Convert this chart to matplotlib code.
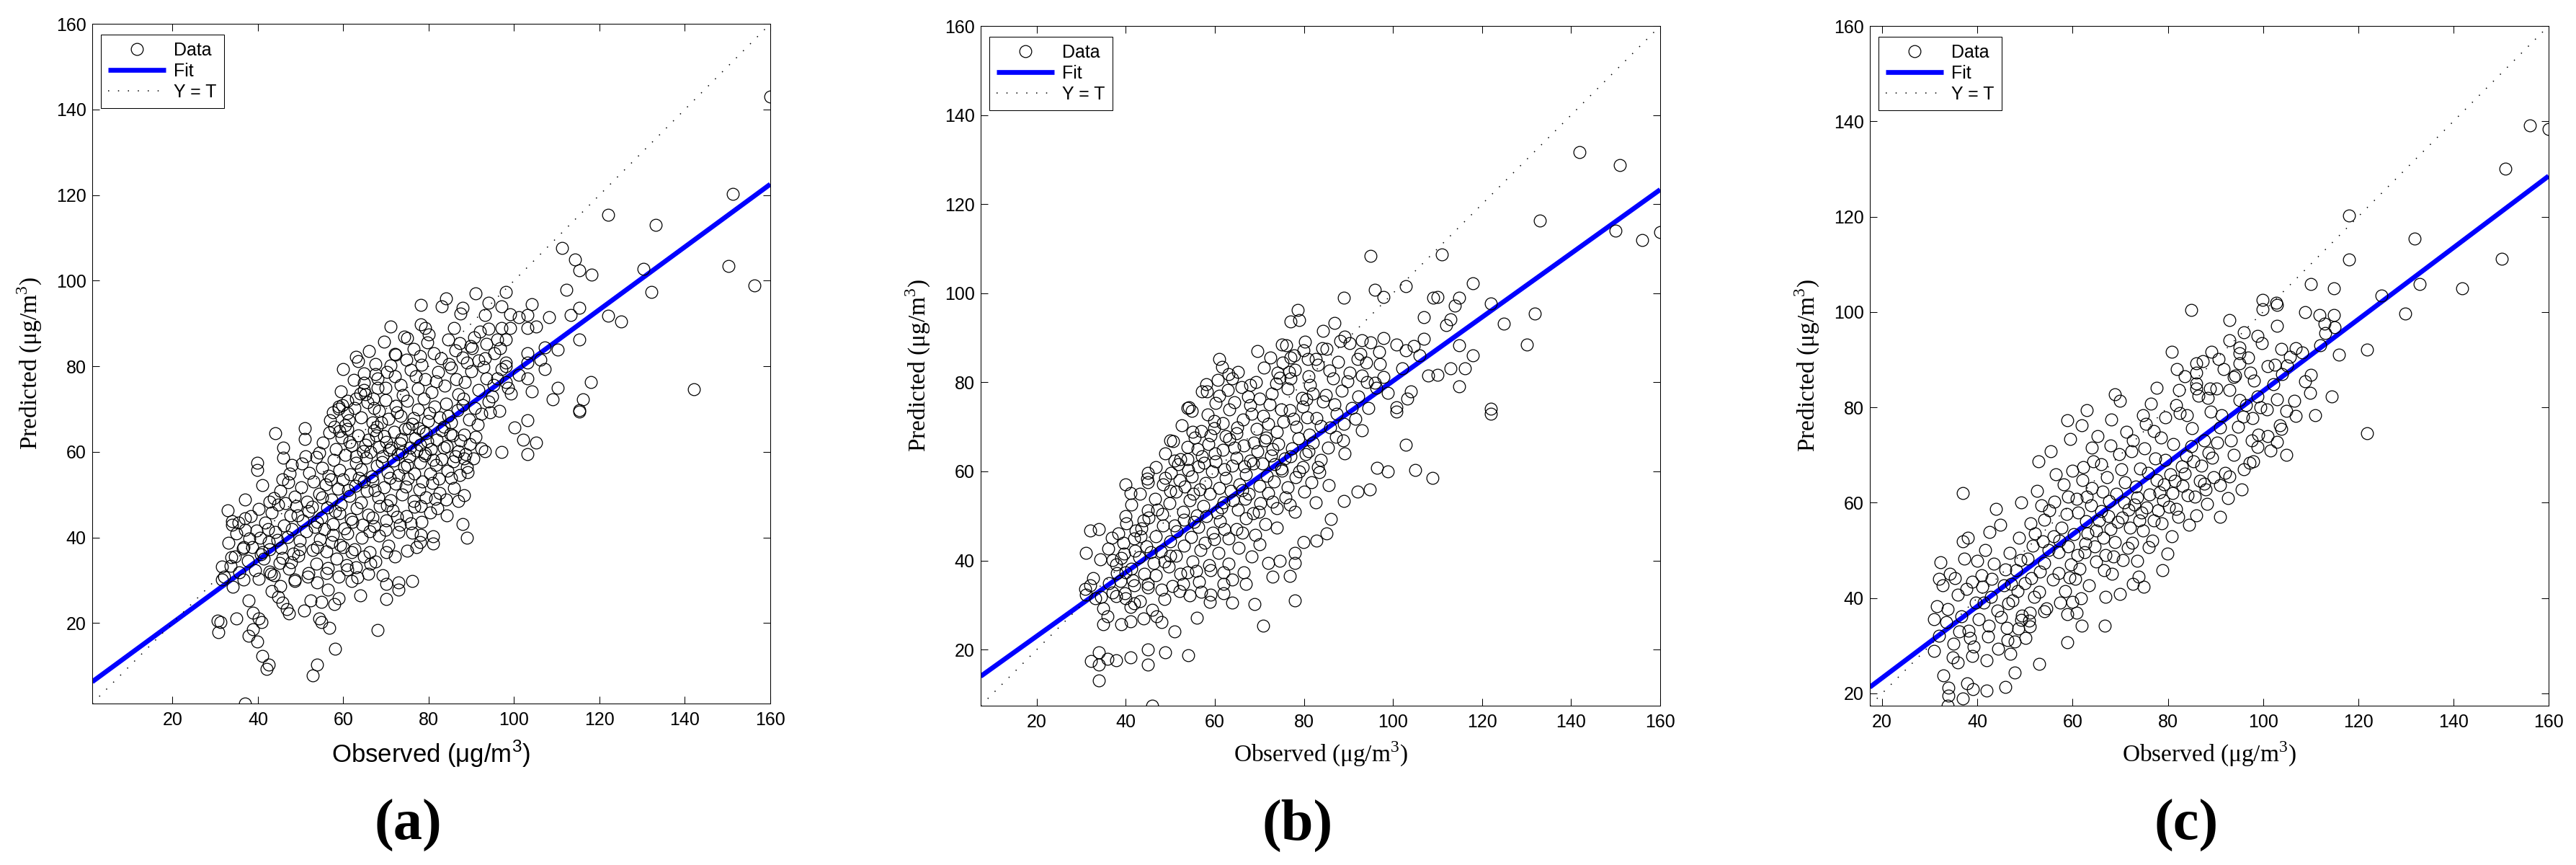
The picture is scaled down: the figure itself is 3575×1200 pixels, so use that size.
import matplotlib
matplotlib.use('Agg')
import matplotlib.pyplot as plt
import numpy as np

plt.rcParams['font.family'] = ['Liberation Sans', 'DejaVu Sans']
plt.rcParams['mathtext.fontset'] = 'custom'
plt.rcParams['mathtext.rm'] = 'Liberation Serif'
plt.rcParams['mathtext.sf'] = 'Liberation Sans'

# ---------------- data ----------------
panel_labels = ['(a)', '(b)', '(c)']
fit_slope = [0.732, 0.716, 0.752]
fit_intercept = [5.4, 8.7, 8.2]
tick_values = [20, 40, 60, 80, 100, 120, 140, 160]
legend_labels = ['Data', 'Fit', 'Y = T']
x_labels = ['Observed (μg/m$^{\\mathsf{3}}$)', 'Observed (μg/m$^{3}$)', 'Observed (μg/m$^{3}$)']
y_label = 'Predicted (μg/m$^{3}$)'

# panel (a): (observed, predicted)
points_a = [
    (160.0, 143.0), (151.2, 120.3), (122.1, 115.3), (133.2, 113.0), (111.2, 107.7), (114.2, 105.0),
    (115.2, 102.4), (118.1, 101.4), (130.3, 102.7), (150.2, 103.5), (156.3, 98.8), (132.2, 97.3),
    (112.2, 97.9), (98.1, 97.3), (91.0, 97.1), (84.0, 95.9), (78.1, 94.4), (83.1, 94.0), (88.0, 93.7),
    (94.1, 94.8), (97.1, 94.0), (104.2, 94.5), (87.5, 92.3), (93.1, 92.0), (99.1, 92.1), (103.2, 92.0),
    (101.1, 91.5), (108.2, 91.5), (113.2, 92.0), (115.2, 93.6), (122.1, 91.8), (125.1, 90.4), (71.0, 89.3),
    (78.1, 89.8), (79.1, 88.9), (92.0, 88.1), (94.1, 88.8), (97.1, 88.9), (99.1, 88.9), (103.2, 88.9),
    (105.2, 89.3), (75.0, 86.5), (96.1, 86.2), (98.1, 86.2), (115.2, 86.2), (87.2, 85.4), (90.2, 84.3),
    (107.2, 84.4), (110.2, 83.9), (103.2, 83.0), (106.2, 81.6), (107.2, 79.4), (103.2, 80.8), (98.1, 80.8),
    (98.1, 80.0), (93.1, 81.9), (72.0, 82.9), (62.9, 82.2), (67.5, 80.5), (59.9, 79.4), (64.9, 78.3),
    (68.0, 77.2), (64.9, 76.1), (68.0, 75.0), (64.9, 74.4), (63.9, 73.6), (67.0, 72.5), (60.9, 71.9),
    (58.9, 70.5), (118.0, 76.3), (110.2, 75.0), (142.1, 74.7), (104.1, 74.2), (99.3, 73.6), (109.1, 72.2),
    (116.2, 72.2), (115.2, 69.7), (103.2, 77.2), (101.1, 78.0), (96.1, 77.2), (98.1, 76.3),
    (37.0, 1.2), (52.8, 7.8), (53.8, 10.3), (42.0, 9.2), (42.5, 10.3), (41.0, 12.3), (58.1, 14.0),
    (39.8, 15.7), (37.9, 17.1), (38.8, 18.5), (30.8, 17.9), (31.3, 20.2), (30.5, 20.5), (34.9, 21.0),
    (38.8, 22.4), (40.1, 21.0), (40.9, 20.2), (56.8, 18.8), (68.0, 18.3), (54.3, 21.0), (54.8, 20.2),
    (50.8, 23.0), (47.2, 22.2), (46.7, 23.3), (45.7, 24.7), (37.9, 25.2), (44.7, 26.1), (52.3, 25.2),
    (54.8, 24.9), (57.9, 24.4), (58.9, 25.8), (56.3, 27.8), (63.9, 26.4), (70.0, 25.6), (73.0, 27.8),
    (70.0, 29.2), (73.0, 29.5), (76.1, 29.8), (53.8, 29.5), (48.7, 29.8), (61.9, 29.8), (58.9, 30.9),
    (65.9, 31.5), (51.8, 31.7), (56.3, 32.8), (60.9, 32.6), (62.9, 33.1), (43.7, 31.2), (42.7, 32.0),
    (40.1, 30.3), (36.6, 30.1), (34.1, 28.4), (31.5, 30.1), (32.1, 30.9), (43.2, 27.5), (45.2, 28.6),
    (47.7, 34.2), (45.7, 35.3), (48.7, 30.1), (33.6, 33.3), (34.6, 35.5), (36.6, 37.8), (38.6, 37.8),
    (40.7, 36.1), (42.7, 37.2), (49.8, 37.2), (53.8, 37.8), (57.3, 38.9), (59.9, 37.8), (61.9, 36.6),
    (64.9, 35.5), (67.5, 34.4), (70.0, 36.6), (72.0, 35.5), (77.1, 37.8), (81.1, 38.6), (81.1, 40.3),
    (78.1, 40.6), (76.1, 41.1), (89.0, 40.0), (88.0, 43.1), (87.0, 48.5), (84.2, 45.1), (82.1, 46.8),
    (78.1, 47.3), (32.9, 46.3), (33.9, 43.8), (33.9, 42.9), (36.9, 48.8), (36.9, 41.8), (39.9, 57.5),
    (39.9, 55.8), (41.0, 52.2), (44.0, 64.3), (46.0, 60.9), (46.0, 58.7), (48.0, 56.9), (51.0, 65.6),
    (51.0, 63.0), (58.9, 70.1), (60.9, 69.0), (103.2, 67.3), (100.1, 65.7), (102.2, 62.9), (105.2, 62.1),
    (103.2, 59.4), (93.1, 60.2), (97.1, 59.9), (115.2, 69.4), (94.3, 69.3), (89.2, 55.2), (88.2, 58.4),
    # dense core
    (57.5, 69.2), (59.8, 71.0), (61.2, 67.4), (62.7, 70.3), (64.1, 68.1), (65.6, 71.6), (66.9, 66.8),
    (68.3, 69.5), (69.8, 72.1), (70.6, 67.7), (72.2, 70.8), (73.5, 68.4), (74.9, 71.9), (76.1, 66.5),
    (77.4, 69.9), (78.8, 72.4), (79.9, 67.2), (81.3, 70.6), (82.6, 68.0), (84.0, 71.3), (85.2, 66.9),
    (86.7, 69.8), (88.1, 72.5), (89.4, 67.6), (90.8, 70.2), (92.3, 68.9), (94.0, 71.7), (60.5, 66.2),
    (67.8, 65.9), (75.3, 65.5), (83.5, 65.8),
    (55.2, 62.1), (56.8, 64.5), (58.3, 60.7), (59.6, 63.3), (60.9, 65.4), (62.0, 61.5), (63.4, 63.9),
    (64.6, 60.2), (65.9, 62.8), (67.1, 65.0), (68.4, 61.1), (69.5, 63.6), (70.7, 60.4), (71.9, 64.7),
    (73.2, 62.0), (74.4, 65.3), (75.6, 60.9), (76.8, 63.2), (78.0, 61.7), (79.3, 64.4), (80.5, 60.6),
    (81.8, 62.9), (83.1, 65.1), (84.3, 61.3), (85.6, 63.8), (86.9, 60.1), (88.2, 64.0), (89.6, 61.9),
    (91.0, 63.5), (92.4, 60.8), (57.9, 65.8), (66.4, 59.9), (72.8, 59.5), (79.0, 59.2), (87.5, 62.6),
    (61.5, 62.4), (70.1, 62.3), (77.7, 65.6),
    (50.3, 57.2), (52.0, 55.1), (53.6, 58.8), (55.0, 56.3), (56.5, 54.4), (57.8, 58.1), (59.1, 55.7),
    (60.4, 59.3), (61.6, 54.8), (62.9, 57.5), (64.2, 55.9), (65.4, 58.6), (66.7, 54.2), (67.9, 56.8),
    (69.2, 59.0), (70.4, 55.3), (71.7, 57.9), (72.9, 54.6), (74.2, 56.5), (75.5, 58.9), (76.7, 55.0),
    (77.9, 57.4), (79.2, 59.6), (80.4, 54.9), (81.7, 56.9), (83.0, 58.3), (84.4, 55.6), (85.8, 57.7),
    (87.3, 54.5), (88.9, 56.4), (90.5, 58.5), (54.3, 59.8), (63.7, 53.9), (73.8, 59.9), (82.3, 53.7),
    (45.2, 50.8), (47.1, 52.9), (48.6, 49.6), (50.1, 51.7), (51.5, 48.4), (53.0, 53.1), (54.4, 50.2),
    (55.9, 52.4), (57.3, 48.9), (58.7, 51.3), (60.0, 53.6), (61.4, 49.7), (62.8, 52.0), (64.1, 48.2),
    (65.5, 50.9), (66.8, 53.3), (68.2, 49.3), (69.6, 51.8), (71.0, 48.7), (72.3, 52.6), (73.7, 50.0),
    (75.1, 53.8), (76.5, 48.6), (77.8, 51.2), (79.3, 49.4), (80.8, 52.7), (82.5, 50.4), (84.1, 48.8),
    (86.0, 51.5), (88.3, 49.9), (46.4, 48.0), (59.4, 47.7), (70.3, 47.5),
    (38.4, 44.9), (40.2, 46.7), (41.7, 43.5), (43.3, 45.8), (44.8, 47.6), (46.1, 42.8), (47.6, 45.1),
    (49.0, 47.3), (50.5, 43.9), (51.9, 46.2), (53.3, 42.4), (54.8, 44.7), (56.2, 47.0), (57.6, 43.2),
    (59.0, 45.6), (60.3, 42.1), (61.7, 44.3), (63.1, 46.9), (64.5, 43.0), (65.8, 45.4), (67.2, 42.6),
    (68.6, 47.4), (70.1, 44.0), (71.6, 46.4), (73.2, 42.9), (74.8, 45.0), (76.6, 47.2), (78.4, 43.7),
    (80.3, 45.9), (35.5, 43.4), (42.4, 42.0), (55.5, 41.9), (66.1, 41.5),
    (33.1, 38.7), (34.9, 40.9), (36.5, 37.4), (38.0, 39.8), (39.6, 41.6), (41.1, 36.6), (42.5, 38.9),
    (44.0, 41.2), (45.4, 37.5), (46.9, 40.1), (48.3, 36.3), (49.8, 39.2), (51.4, 41.4), (52.9, 37.0),
    (54.5, 39.6), (56.1, 36.8), (57.6, 40.6), (59.3, 38.2), (61.0, 41.0), (62.6, 37.3), (64.3, 39.9),
    (66.2, 36.5), (68.3, 40.4), (70.5, 38.0), (72.9, 41.3), (75.0, 36.9),
    (31.6, 33.2), (33.8, 35.4), (35.7, 31.9), (37.6, 34.6), (39.4, 32.4), (41.3, 35.1), (43.1, 31.5),
    (45.0, 34.0), (47.2, 32.7), (49.5, 35.7), (51.6, 30.8), (53.7, 33.9), (56.0, 31.7), (58.4, 35.0),
    (60.7, 33.5), (63.3, 30.6), (66.4, 33.8), (69.2, 31.2),
    (59.5, 74.1), (62.4, 76.8), (65.1, 73.5), (67.6, 78.2), (69.9, 75.0), (72.1, 77.6), (74.0, 73.2),
    (75.8, 79.1), (77.5, 74.8), (79.1, 77.0), (80.6, 73.9), (82.2, 78.6), (83.8, 75.5), (85.3, 79.6),
    (86.9, 73.4), (88.4, 76.3), (90.0, 78.9), (91.7, 74.4), (93.5, 77.2), (95.2, 75.7), (97.0, 79.3),
    (71.0, 80.1), (78.3, 80.4), (84.7, 80.6),
    (74.8, 81.5), (76.5, 84.0), (78.0, 82.3), (79.6, 85.6), (81.2, 83.1), (82.9, 81.9), (84.6, 86.2),
    (86.3, 83.7), (88.0, 82.0), (89.8, 84.8), (91.6, 81.4), (93.5, 85.3), (95.4, 83.0), (66.0, 83.5),
    (69.5, 85.8), (72.3, 82.7), (63.5, 81.2),
    (63.0, 58.9), (65.2, 61.7), (67.7, 63.8), (69.0, 57.6), (71.3, 61.0), (73.6, 63.0), (75.0, 57.0),
    (77.2, 60.3), (79.6, 62.5), (81.0, 58.2), (83.6, 60.9), (85.0, 64.2), (86.2, 58.9), (68.8, 66.9),
    (72.6, 69.3), (76.4, 67.9), (80.2, 69.0), (84.5, 68.4), (87.9, 70.9), (91.5, 66.4), (64.8, 53.0),
    (67.3, 51.0), (70.9, 53.9), (74.6, 51.9), (78.5, 53.1), (81.5, 49.0), (85.2, 53.9), (61.1, 51.1),
    (57.1, 53.6), (55.1, 49.4), (52.6, 47.1), (49.3, 45.2), (58.1, 46.1), (62.1, 43.6), (66.9, 44.6),
    (69.8, 41.7), (72.6, 44.8), (75.8, 43.3), (77.9, 38.9), (53.9, 43.6), (48.0, 41.9), (44.5, 39.5),
    (40.5, 40.0), (37.0, 44.4), (43.8, 49.2), (51.1, 59.0), (47.5, 55.0), (45.8, 53.6), (42.7, 48.3),
    (56.9, 67.4), (59.1, 64.8), (63.0, 72.4), (70.2, 78.6), (73.4, 75.6), (76.9, 77.7), (81.7, 76.4),
    (86.4, 77.0), (89.0, 80.9), (92.8, 79.9), (94.8, 73.0), (96.5, 69.6), (98.6, 74.9), (80.0, 87.5),
    (85.9, 88.9), (90.6, 86.7), (96.8, 84.3), (74.2, 86.9), (67.2, 70.2), (78.6, 64.9), (88.7, 59.5),
]

# panel (b): (observed, predicted)
points_b = [
    (160.0, 113.7), (141.9, 131.6), (150.9, 128.8), (132.9, 116.3), (149.9, 114.1), (155.9, 111.9),
    (95.0, 108.4), (111.0, 108.7), (102.9, 101.6), (95.9, 100.8), (97.9, 99.2), (88.9, 99.0),
    (118.0, 102.2), (109.0, 99.0), (110.0, 99.2), (114.9, 99.0), (113.9, 97.2), (122.0, 97.7),
    (131.9, 95.5), (124.9, 93.1), (106.9, 94.6), (112.9, 94.2), (112.0, 92.8), (77.0, 93.6),
    (78.9, 93.9), (130.0, 88.5), (114.9, 88.3), (118.0, 86.0), (112.9, 83.1), (116.1, 83.1),
    (107.9, 81.5), (110.0, 81.7), (114.9, 79.1), (122.0, 74.1), (89.1, 90.2), (88.1, 89.3),
    (93.0, 89.5), (95.0, 89.0), (97.9, 89.9), (100.8, 88.5), (106.9, 89.7), (104.7, 88.2),
    (76.0, 88.3), (79.9, 87.1), (84.1, 87.6), (96.9, 86.8), (102.9, 87.1), (105.9, 86.0),
    (60.9, 85.2), (77.0, 85.5), (80.9, 85.2), (92.0, 85.2), (94.0, 84.4), (102.1, 83.2),
    (63.1, 81.9), (63.8, 80.8), (68.0, 79.4), (57.0, 78.0), (60.9, 77.0), (54.1, 74.4),
    (74.0, 82.1), (76.7, 82.4), (81.1, 81.3), (95.9, 79.9), (97.9, 81.2), (104.0, 78.0),
    (103.2, 76.3), (100.8, 74.4), (98.8, 77.6), (93.0, 81.5),
    (45.9, 7.4), (33.9, 13.0), (33.9, 16.7), (33.9, 19.3), (32.1, 17.4), (35.9, 17.9), (37.9, 17.6),
    (41.0, 18.3), (45.0, 20.1), (45.0, 16.7), (48.9, 19.3), (54.0, 18.7), (51.0, 24.0), (55.9, 27.1),
    (70.8, 25.3), (77.9, 31.1), (68.9, 30.2), (63.9, 30.6), (66.9, 34.7), (61.9, 32.6), (59.0, 32.3),
    (56.9, 32.9), (48.0, 26.1), (46.9, 27.4), (45.9, 29.0), (43.9, 26.9), (41.0, 26.4), (38.9, 25.7),
    (34.9, 25.7), (35.9, 27.4), (34.9, 29.3), (41.0, 29.6), (41.9, 30.4), (40.0, 31.5), (37.9, 32.0),
    (37.0, 32.8), (33.1, 31.5), (31.0, 32.3), (32.0, 34.5), (41.9, 34.5), (45.0, 34.7), (48.0, 33.4),
    (52.0, 33.1), (52.9, 34.7), (53.9, 37.4), (61.9, 34.7), (73.0, 36.3), (76.9, 36.6), (77.9, 39.5),
    (71.9, 39.5), (66.4, 37.4), (61.9, 37.4), (59.0, 37.9), (31.0, 41.7), (32.0, 46.8), (34.0, 47.1),
    (37.0, 40.1), (38.9, 40.6), (40.0, 37.4), (43.4, 45.5), (40.0, 50.0), (40.0, 57.0), (41.0, 55.1),
    (45.0, 59.7), (45.0, 57.6), (48.9, 58.6), (49.9, 67.0), (51.0, 62.4), (53.9, 62.7), (53.9, 74.3),
    (55.0, 68.9), (59.9, 69.7), (59.0, 68.1), (82.8, 44.4), (85.0, 46.1), (79.9, 44.1), (77.9, 41.7),
    (86.0, 49.3), (88.9, 53.3), (92.0, 55.5), (94.8, 56.0), (98.8, 60.0), (104.9, 60.3), (108.9, 58.5),
    (102.9, 66.0), (121.9, 73.0), (100.8, 73.5), (93.0, 69.2), (96.4, 60.8),
    # dense core
    (52.5, 70.3), (54.8, 73.6), (56.9, 69.1), (58.4, 72.8), (60.1, 75.4), (61.7, 70.9), (63.2, 73.9),
    (64.8, 68.6), (66.3, 71.7), (67.9, 74.8), (69.4, 69.5), (70.8, 72.4), (72.3, 75.1), (73.9, 68.9),
    (75.4, 71.2), (76.8, 73.7), (78.3, 70.0), (79.7, 74.5), (81.2, 68.3), (82.8, 71.9), (84.3, 75.7),
    (85.9, 69.8), (87.4, 72.9), (89.0, 70.6), (90.8, 74.2), (62.5, 67.9), (71.5, 67.6), (80.5, 76.2),
    (58.2, 77.9), (60.7, 80.6), (62.9, 78.3), (65.1, 82.4), (67.4, 76.8), (69.2, 80.1), (71.0, 83.3),
    (72.7, 77.5), (74.5, 81.0), (76.3, 78.6), (78.0, 82.8), (79.6, 76.5), (81.4, 79.4), (83.1, 83.9),
    (84.9, 77.2), (86.6, 80.8), (88.5, 78.1), (90.3, 82.1), (92.2, 76.9), (94.1, 80.0), (96.3, 78.7),
    (75.2, 84.4), (66.0, 79.0),
    (72.5, 85.6), (75.0, 88.4), (77.8, 86.1), (80.3, 89.2), (82.6, 85.3), (85.1, 87.5), (87.6, 84.6),
    (90.2, 88.8), (92.7, 86.4), (69.5, 87.0),
    (48.9, 64.1), (50.6, 66.8), (52.2, 62.7), (53.9, 65.5), (55.5, 67.6), (57.0, 63.4), (58.6, 66.2),
    (60.2, 62.2), (61.8, 64.9), (63.3, 67.3), (64.9, 63.0), (66.4, 65.8), (68.0, 62.4), (69.5, 64.6),
    (71.1, 67.0), (72.6, 63.6), (74.2, 66.1), (75.7, 62.9), (77.3, 65.1), (78.8, 67.5), (80.4, 63.8),
    (82.0, 66.4), (83.7, 62.6), (85.4, 65.3), (87.2, 67.8), (89.1, 64.0), (57.6, 61.9), (73.4, 61.6),
    (44.8, 58.3), (46.7, 60.9), (48.4, 57.1), (50.1, 59.7), (51.7, 61.6), (53.2, 56.6), (54.8, 58.9),
    (56.3, 61.2), (57.9, 57.4), (59.4, 60.0), (60.9, 56.2), (62.4, 58.5), (63.9, 61.3), (65.5, 57.0),
    (67.0, 59.4), (68.6, 61.8), (70.1, 56.8), (71.7, 59.1), (73.2, 57.8), (74.8, 60.6), (76.4, 56.4),
    (78.1, 58.7), (79.8, 61.0), (81.6, 57.5), (83.5, 59.9), (85.5, 56.9), (66.2, 55.8),
    (41.2, 52.6), (43.1, 55.0), (44.9, 51.3), (46.6, 53.8), (48.2, 50.4), (49.8, 52.9), (51.3, 55.4),
    (52.9, 51.0), (54.4, 53.5), (55.9, 50.2), (57.4, 52.2), (58.9, 54.9), (60.5, 50.8), (62.0, 53.0),
    (63.6, 55.6), (65.2, 51.4), (66.8, 53.9), (68.5, 50.6), (70.2, 52.8), (72.0, 55.2), (73.9, 51.7),
    (75.9, 54.1), (78.0, 50.9), (56.6, 55.9),
    (38.3, 46.1), (40.1, 48.4), (41.8, 44.9), (43.5, 47.2), (45.1, 49.6), (46.7, 45.5), (48.3, 47.9),
    (49.9, 44.3), (51.4, 46.6), (53.0, 49.1), (54.6, 45.2), (56.2, 47.5), (57.8, 44.0), (59.5, 46.3),
    (61.2, 48.8), (63.0, 45.0), (64.9, 47.0), (66.9, 49.4), (69.0, 45.7), (71.3, 48.2),
    (34.2, 40.3), (36.1, 42.6), (37.9, 39.1), (39.6, 41.5), (41.3, 38.2), (43.0, 40.8), (44.6, 43.1),
    (46.3, 39.5), (47.9, 42.0), (49.6, 38.6), (51.3, 41.0), (53.1, 43.4), (54.9, 39.8), (56.8, 42.3),
    (58.7, 38.9), (60.8, 41.7), (63.0, 39.3), (65.3, 42.9),
    (30.8, 33.6), (32.6, 36.1), (34.4, 31.8), (36.2, 34.9), (38.0, 37.2), (39.7, 32.7), (41.5, 35.6),
    (43.2, 30.9), (45.0, 33.9), (46.8, 36.7), (48.6, 31.4), (50.4, 34.3), (52.3, 37.0), (54.3, 32.1),
    (56.5, 35.2), (58.8, 30.7),
    (60.0, 64.0), (62.1, 60.4), (64.3, 65.4), (66.6, 61.1), (68.7, 66.5), (70.6, 61.7), (72.9, 65.0),
    (75.1, 60.2), (77.0, 63.4), (79.0, 60.0), (81.1, 64.6), (83.2, 61.0), (65.0, 69.9), (68.2, 72.9),
    (71.9, 70.6), (74.8, 73.9), (77.7, 71.8), (80.7, 72.2), (83.8, 70.2), (86.9, 75.0), (88.8, 67.0),
    (59.8, 71.4), (56.1, 65.0), (54.0, 60.3), (52.1, 58.1), (50.0, 55.6), (55.2, 55.0), (58.0, 50.0),
    (61.4, 51.9), (64.0, 53.5), (67.6, 55.0), (69.9, 51.0), (73.0, 53.2), (76.9, 52.6), (80.0, 55.4),
    (82.6, 53.0), (47.0, 51.4), (44.0, 49.0), (42.2, 46.8), (39.4, 44.0), (36.9, 45.1), (50.9, 47.9),
    (55.3, 48.6), (59.9, 44.8), (62.1, 47.1), (66.1, 46.2), (70.0, 43.6), (73.9, 47.4), (50.0, 41.0),
    (45.6, 41.9), (42.0, 42.2), (38.8, 35.4), (44.1, 37.0), (48.6, 39.8), (55.8, 37.6), (63.9, 35.8),
    (68.2, 40.9), (74.5, 40.0), (58.0, 79.6), (61.6, 83.4), (64.4, 75.6), (70.0, 76.4), (73.8, 79.8),
    (77.0, 80.9), (82.0, 77.5), (85.8, 82.7), (89.7, 80.2), (91.5, 71.8), (94.5, 74.3), (97.0, 84.1),
    (84.3, 91.6), (86.9, 93.3), (78.6, 96.2),
]

# panel (c): (observed, predicted)
points_c = [
    (160.0, 138.4), (156.0, 139.1), (150.9, 130.0), (118.0, 120.2), (131.9, 115.4), (118.0, 111.0),
    (150.1, 111.2), (110.0, 105.9), (114.9, 105.0), (132.9, 105.9), (141.9, 105.0), (124.9, 103.4),
    (99.9, 102.6), (102.8, 102.0), (129.9, 99.6), (121.9, 92.1), (121.9, 74.6), (102.9, 101.5),
    (99.9, 100.5), (84.9, 100.4), (92.9, 98.3), (108.8, 100.0), (111.9, 99.4), (114.9, 99.4),
    (112.9, 97.6), (115.1, 96.8), (113.0, 95.6), (102.9, 97.1), (96.0, 95.8), (98.8, 95.0),
    (92.9, 94.1), (80.9, 91.6), (89.2, 91.7), (95.0, 91.3), (106.9, 92.4), (103.8, 92.3),
    (105.6, 90.6), (115.9, 91.0), (86.0, 89.2), (81.9, 88.0), (90.6, 90.1), (95.0, 89.2),
    (101.0, 88.6), (102.4, 88.9), (97.4, 87.2), (93.8, 86.3), (86.0, 87.2), (104.0, 86.9),
    (108.9, 85.5), (109.9, 83.0), (114.4, 82.2), (102.9, 81.6), (98.9, 82.2), (95.0, 81.5),
    (86.0, 83.9), (88.8, 83.9), (82.4, 83.6), (68.9, 82.8), (69.9, 81.4), (62.9, 79.4),
    (58.9, 77.3), (61.9, 76.2), (59.5, 73.3), (110.9, 78.4), (106.9, 78.2), (104.9, 79.3),
    (103.9, 75.5), (103.0, 72.8), (104.9, 70.1), (101.0, 73.9), (98.9, 71.7), (97.9, 68.7),
    (96.0, 67.0), (92.9, 65.5), (91.0, 63.7), (91.0, 57.0), (36.9, 62.0), (31.9, 44.0),
    (30.9, 35.6), (31.9, 32.1), (30.9, 28.9), (32.9, 23.8), (33.9, 21.2), (33.9, 19.5),
    (33.8, 17.4), (36.9, 18.9), (37.9, 22.1), (39.0, 20.9), (41.9, 20.6), (45.9, 21.4),
    (47.9, 24.3), (53.0, 26.2), (58.9, 30.7), (35.9, 26.4), (38.9, 27.9), (41.9, 27.0),
    (46.9, 28.3), (50.1, 31.6), (61.9, 34.2), (66.8, 34.2), (66.9, 40.3), (69.9, 40.9),
    (74.9, 42.3), (78.9, 45.8), (72.7, 42.9), (59.9, 39.2), (60.9, 36.9), (58.9, 36.6),
    (54.0, 37.2), (51.0, 36.9), (49.2, 35.4), (51.0, 34.0),
    # dense core
    (31.5, 38.2), (32.7, 42.6), (33.4, 34.9), (34.2, 45.1), (35.0, 30.4), (35.8, 40.7), (36.6, 36.2),
    (37.3, 48.3), (38.1, 33.1), (38.9, 43.4), (39.6, 39.0), (32.2, 47.5), (34.8, 27.6), (36.9, 51.9),
    (39.2, 29.8), (33.8, 37.7), (37.7, 41.9),
    (40.3, 35.6), (40.9, 44.8), (41.6, 50.1), (42.2, 31.9), (42.9, 40.3), (43.5, 47.2), (44.2, 37.4),
    (44.8, 55.3), (45.5, 42.6), (46.1, 33.8), (46.8, 49.4), (47.4, 39.5), (48.1, 45.9), (48.7, 52.6),
    (49.4, 36.3), (50.0, 43.1), (41.3, 39.1), (43.9, 58.7), (45.8, 46.0), (47.9, 30.9), (49.2, 60.1),
    (42.6, 53.9), (46.5, 38.8), (48.4, 41.4),
    (50.6, 48.3), (51.2, 55.7), (51.9, 40.2), (52.5, 62.4), (53.2, 45.6), (53.8, 51.9), (54.5, 37.8),
    (55.1, 58.4), (55.8, 43.9), (56.4, 66.0), (57.1, 49.6), (57.7, 54.7), (58.4, 41.5), (59.0, 61.3),
    (59.7, 47.0), (50.9, 35.2), (52.8, 68.7), (54.1, 47.4), (56.0, 53.0), (57.4, 39.1), (58.8, 57.6),
    (55.4, 70.8), (53.5, 59.5), (59.3, 44.3), (51.6, 51.0), (57.0, 45.2),
    (60.3, 53.4), (60.9, 60.8), (61.5, 46.2), (62.2, 67.5), (62.8, 56.1), (63.4, 42.7), (64.1, 63.0),
    (64.7, 50.8), (65.3, 73.9), (66.0, 58.2), (66.6, 45.9), (67.2, 65.4), (67.9, 54.5), (68.5, 48.7),
    (69.1, 61.9), (69.8, 70.2), (61.2, 57.9), (62.5, 49.6), (63.8, 59.5), (65.0, 54.1), (66.3, 62.3),
    (67.5, 57.1), (68.8, 51.8), (64.4, 68.6), (61.8, 39.9), (68.1, 77.4), (63.1, 53.6), (66.9, 49.0),
    (70.4, 56.9), (71.0, 64.3), (71.6, 50.5), (72.3, 70.8), (72.9, 59.6), (73.5, 47.8), (74.2, 67.1),
    (74.8, 54.2), (75.4, 76.5), (76.1, 61.7), (76.7, 52.0), (77.3, 69.3), (78.0, 58.4), (78.6, 73.6),
    (79.2, 63.8), (79.9, 49.3), (70.9, 60.0), (72.0, 54.7), (73.2, 63.4), (74.5, 58.0), (75.8, 66.2),
    (77.0, 56.3), (78.3, 62.1), (79.5, 68.9), (71.3, 74.8), (76.4, 80.7), (73.8, 44.5), (77.7, 84.1),
    (75.1, 71.4),
    (80.5, 66.0), (81.2, 72.3), (81.8, 58.7), (82.5, 78.8), (83.1, 63.5), (83.8, 69.9), (84.4, 55.3),
    (85.1, 75.6), (85.7, 61.2), (86.4, 82.4), (87.0, 67.8), (87.7, 73.0), (88.3, 59.8), (89.0, 79.1),
    (89.6, 65.4), (81.0, 62.0), (82.9, 67.6), (84.9, 71.8), (86.7, 64.6), (88.6, 70.5), (83.5, 86.5),
    (87.3, 89.7), (80.8, 53.0),
    (90.4, 72.6), (91.3, 78.4), (92.1, 66.2), (93.0, 83.7), (93.8, 70.1), (94.7, 75.9), (95.5, 62.8),
    (96.4, 80.5), (97.2, 68.4), (98.1, 85.6), (99.0, 74.3), (91.7, 88.0), (95.1, 92.6), (97.8, 77.7),
    (92.6, 61.0),
    (100.8, 79.6), (102.1, 84.9), (103.5, 76.2), (105.0, 88.7), (106.6, 81.3), (108.2, 91.5),
    (110.1, 86.8), (112.0, 93.0), (101.5, 71.0),
    (41.0, 42.4), (43.0, 44.0), (45.0, 36.0), (47.0, 43.0), (49.0, 48.0), (51.3, 44.2), (53.0, 41.3),
    (55.0, 50.0), (57.2, 52.0), (59.0, 50.8), (61.0, 49.0), (63.0, 61.2), (65.6, 56.3), (67.7, 60.3),
    (69.5, 55.9), (71.8, 58.5), (73.6, 61.1), (75.6, 59.0), (77.6, 64.7), (79.0, 60.5), (81.5, 64.6),
    (83.6, 66.1), (85.4, 68.7), (87.6, 64.0), (89.3, 69.4), (91.0, 75.8), (93.3, 73.1), (95.8, 78.0),
    (97.6, 73.0), (99.5, 80.0), (60.6, 44.0), (62.6, 51.5), (64.9, 47.7), (66.4, 52.6), (68.3, 45.0),
    (70.6, 48.0), (72.5, 51.6), (74.0, 56.3), (76.0, 50.6), (78.7, 55.7), (80.2, 59.2), (82.2, 57.0),
    (84.2, 61.6), (86.0, 57.3), (88.0, 62.7), (52.0, 53.6), (54.0, 56.4), (56.2, 60.2), (58.1, 63.9),
    (60.0, 66.7), (62.0, 64.8), (64.0, 71.5), (66.0, 68.0), (68.0, 72.0), (70.2, 67.0), (72.7, 73.0),
    (74.8, 78.4), (77.0, 75.0), (79.5, 77.9), (81.7, 80.4), (84.0, 78.3), (86.0, 85.0), (88.4, 82.0),
    (90.2, 84.0), (94.1, 86.7), (96.8, 90.4), (99.8, 93.4), (40.0, 47.8), (38.0, 52.7), (35.2, 44.2),
    (36.1, 33.0), (38.5, 31.6), (42.4, 34.2), (44.4, 29.4), (46.3, 31.2), (48.6, 33.6),
]

panel_points = [points_a, points_b, points_c]

# ---------------- layout ----------------
W, H = 3575, 1200
axes_px = [(128, 33, 941, 943), (1361, 36, 943, 943), (2595, 36, 942, 943)]

fig = plt.figure(figsize=(W / 100, H / 100), dpi=100)

for i, pts in enumerate(panel_points):
    l, t, w, h = axes_px[i]
    ax = fig.add_axes([l / W, 1 - (t + h) / H, w / W, h / H])
    obs = np.array([p[0] for p in pts])
    pred = np.array([p[1] for p in pts])
    lo = min(obs.min(), pred.min())
    hi = max(obs.max(), pred.max())
    xs = np.array([lo, hi])

    fit_line, = ax.plot(xs, fit_slope[i] * xs + fit_intercept[i], color=(0, 0, 1),
                        lw=4.8, solid_capstyle='butt', zorder=2)
    yt_line, = ax.plot(xs, xs, color='k', lw=1.1, linestyle=(0, (1, 8)), zorder=2)
    data_line, = ax.plot(obs, pred, linestyle='none', marker='o', ms=12, mfc='none',
                         mec='k', mew=0.9, zorder=3)

    ax.set_xlim(lo, hi)
    ax.set_ylim(lo, hi)
    ax.set_xticks(tick_values)
    ax.set_yticks(tick_values)
    ax.tick_params(direction='in', length=7.2, width=0.75, top=True, right=True,
                   labelsize=18, colors='k')
    ax.tick_params(axis='x', pad=8)
    ax.tick_params(axis='y', pad=6)
    for s in ax.spines.values():
        s.set_linewidth(0.75)

    if i == 0:
        ax.set_xlabel(x_labels[i], fontsize=25, family=['Liberation Sans', 'DejaVu Sans'], va='center')
    else:
        ax.set_xlabel(x_labels[i], fontsize=24, family=['Liberation Serif', 'DejaVu Serif'], va='center')
    ax.xaxis.set_label_coords(0.5, -(1046 - (t + h)) / h)
    ax.set_ylabel(y_label, fontsize=24, family=['Liberation Serif', 'DejaVu Serif'], va='center')
    ax.yaxis.set_label_coords(-87 / w, 0.5)

    leg = ax.legend([data_line, fit_line, yt_line], legend_labels, loc='upper left',
                    bbox_to_anchor=(12 / w, 1 - 15 / h), borderaxespad=0, fontsize=18,
                    handlelength=3.2, handletextpad=0.45, labelspacing=0.2, borderpad=0.4,
                    fancybox=False, framealpha=1, edgecolor='k', numpoints=1)
    leg.get_frame().set_linewidth(0.75)

    ax.text(0.466, -(1145 - (t + h)) / h, panel_labels[i], transform=ax.transAxes,
            ha='center', va='center', fontsize=58, fontweight='bold',
            family=['Liberation Serif', 'DejaVu Serif'])

fig.savefig('out.png', dpi=100)
